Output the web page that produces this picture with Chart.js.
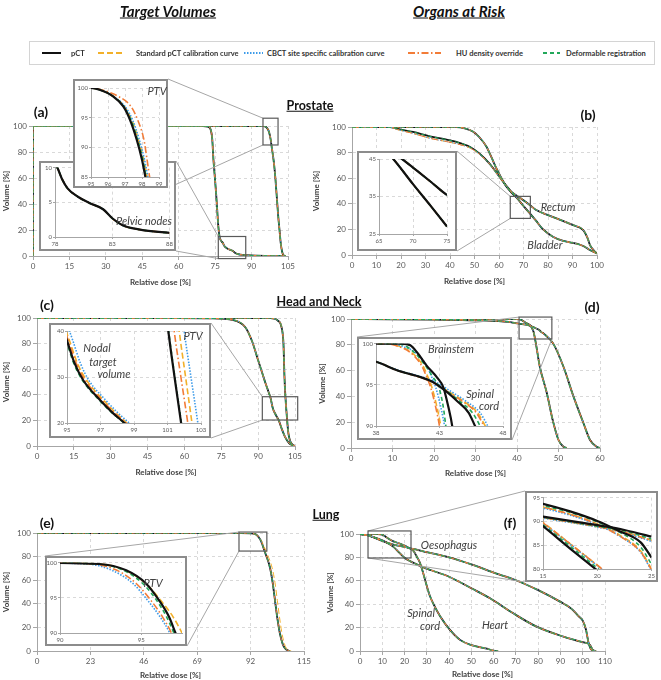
<!DOCTYPE html>
<html>
<head>
<meta charset="utf-8">
<script src="https://cdn.jsdelivr.net/npm/chart.js@4.4.1/dist/chart.umd.min.js"></script>
<style>
  body { margin: 0; background: #fff; font-family: Lato, "Open Sans", sans-serif; }
  #fig { position: relative; width: 661px; height: 680px; overflow: hidden; background: #fff; }
  .main { position: absolute; z-index: 1; }
  .inset { position: absolute; z-index: 2; box-sizing: border-box; border: 2px solid #8c8c8c; background: #fff; }
  .inset canvas { position: absolute; left: 0; top: 0; }
  .lbl { position: absolute; z-index: 5; white-space: nowrap; transform: translate(-50%, -50%); line-height: 1; }
  .head { font-size: 15px; font-weight: bold; font-style: italic; text-decoration: underline; color: #111; }
  .sec { font-size: 12.5px; font-weight: bold; text-decoration: underline; color: #111; }
  .panel { font-size: 14px; font-weight: bold; color: #111; }
  .it { font-size: 11px; font-style: italic; color: #404040; }
  #legend { position: absolute; z-index: 3; left: 29px; top: 41px; width: 626px; height: 24px;
            box-sizing: border-box; border: 1px solid #d4d4d4; background: #fff; }
  #legend span { position: absolute; top: 50%; transform: translateY(-50%); font-size: 7.5px; font-weight: bold; color: #333; white-space: nowrap; }
  #legend svg { position: absolute; top: 0; left: 0; }
</style>
</head>
<body>
<div id="fig"></div>
<script>
// -----------------------
// DATA
// -----------------------

const seriesNames = ['pCT', 'Standard pCT calibration curve', 'CBCT site specific calibration curve',
                     'HU density override', 'Deformable registration'];

// tick values
const aXTicks = [0, 15, 30, 45, 60, 75, 90, 105];
const volTicks = [0, 20, 40, 60, 80, 100];
const aPtvInXTicks = [95, 96, 97, 98, 99];
const aPtvInYTicks = [85, 90, 95, 100];
const aNodeInXTicks = [78, 83, 88];
const aNodeInYTicks = [0, 5, 10];
const bXTicks = [0, 10, 20, 30, 40, 50, 60, 70, 80, 90, 100];
const bInXTicks = [65, 70, 75];
const bInYTicks = [25, 35, 45];
const cInXTicks = [95, 97, 99, 101, 103];
const cInYTicks = [20, 30, 40];
const dXTicks = [0, 10, 20, 30, 40, 50, 60];
const dInXTicks = [38, 43, 48];
const dInYTicks = [90, 95, 100];
const eXTicks = [0, 23, 46, 69, 92, 115];
const eInXTicks = [90, 95];
const eInYTicks = [90, 95, 100];
const fXTicks = [0, 10, 20, 30, 40, 50, 60, 70, 80, 90, 100, 110];
const fInXTicks = [15, 20, 25];
const fInYTicks = [80, 85, 90, 95];

// (a) prostate target volumes
const aPtvDose = [0, 95, 95.5, 96.3, 96.9, 97.3, 97.7, 98.0, 98.2, 98.6, 99.3, 99.8, 100.2, 100.6, 101.0, 101.5, 102.0, 102.5, 103.0, 104.0];
const aPtvVol  = [100, 100, 99.7, 98.6, 96.9, 94.6, 91.2, 87.9, 85, 80, 70, 60, 50, 40, 30, 20, 10, 4, 1, 0];
const aNodeDose = [0, 0, 70, 72, 73, 73.8, 74.3, 74.9, 75.4, 75.9, 76.3, 76.8, 77.4, 78.2, 78.6, 79.1, 80, 81, 82.2, 83, 83.9, 85.3, 88, 92, 100, 104];
const aNodeVol  = [0, 100, 100, 99.5, 98, 90, 74, 60, 48, 34, 23, 15, 11.8, 10, 8.4, 7, 5.8, 4.9, 4.0, 2.7, 1.7, 1.1, 0.6, 0.3, 0.1, 0];
const aPtvInVol  = [100, 100, 99.7, 98.6, 96.9, 94.6, 91.2, 87.9, 85, 82];
const aPtvInPct  = [93, 95, 95.5, 96.3, 96.9, 97.3, 97.7, 98.0, 98.2, 98.4];
const aPtvInStd  = [93, 95, 95.5, 96.3, 96.95, 97.4, 97.8, 98.1, 98.3, 98.5];
const aPtvInCbct = [93, 95, 95.5, 96.3, 97.0, 97.45, 97.85, 98.15, 98.35, 98.55];
const aPtvInHu   = [93, 95, 95.6, 96.6, 97.35, 97.75, 98.12, 98.3, 98.45, 98.65];
const aPtvInDef  = [93, 95, 95.5, 96.3, 96.92, 97.35, 97.75, 98.05, 98.25, 98.45];

// (b) prostate organs at risk
const bBladDose = [0, 42.7, 46, 49.5, 52, 54.9, 57, 59.1, 61, 63, 65, 67.1, 70, 72.6, 75, 78, 82, 86.2, 90, 93.1, 95, 97.1, 99.8];
const bBladVol  = [100, 100, 99, 96.3, 92, 84.6, 76, 67, 60, 53.5, 49, 45, 38.3, 32.5, 27, 20, 14.3, 11, 9.5, 8, 6.5, 3.9, 1.3];
const bRectDose = [0, 15.5, 18.2, 24.9, 31.8, 38.6, 42.7, 48.2, 52.2, 56.3, 60.4, 63, 65, 68.4, 70, 72.7, 75, 79.5, 86.3, 90, 94.4, 96, 97.1, 98.5, 100];
const bRectVol  = [100, 100, 98.7, 96.1, 92.7, 90.1, 88.3, 84.4, 79, 71, 60.5, 54, 49.5, 45, 42.7, 38.8, 35.4, 31.5, 26.5, 23.5, 19.5, 14, 8, 4, 1];
const bRectVolCal = [100, 100, 98.2, 95.0, 91.2, 88.6, 86.9, 83.6, 78.6, 70.8, 60.4, 54, 49.5, 45, 42.7, 38.8, 35.4, 31.5, 26.5, 23.5, 19.5, 14, 8, 4, 1];

// (c) head and neck target volumes
const cNodeDose = [0, 57, 70, 79.9, 84.7, 87.5, 89.5, 91.5, 93, 94, 95, 96, 97, 97.8, 98.4, 99.5, 101, 102.5, 104.3];
const cNodeVol  = [100, 100, 99.7, 98.4, 93, 82, 70, 58, 49, 43.5, 37.9, 29.3, 25, 22.1, 20.1, 14, 7, 2.5, 0];
const cPtvDose = [0, 95, 96.5, 98, 99.5, 100.3, 100.7, 101.05, 101.8, 102.3, 103, 104, 105];
const cPtvVol  = [100, 100, 99.5, 98, 93, 80, 55, 40, 20.3, 10, 4, 1, 0];
const cNodeInVol  = [42, 37.9, 33, 29.3, 25, 22.1, 20.1, 18];
const cNodeInPct  = [94.6, 95, 95.45, 95.97, 96.97, 97.76, 98.4, 99.0];
const cNodeInStd  = [94.75, 95.15, 95.62, 96.17, 97.17, 97.94, 98.55, 99.15];
const cNodeInCbct = [94.95, 95.35, 95.8, 96.3, 97.3, 98.07, 98.68, 99.3];
const cNodeInHu   = [94.7, 95.08, 95.55, 96.08, 97.08, 97.87, 98.5, 99.1];
const cNodeInDef  = [94.55, 94.95, 95.4, 95.92, 96.92, 97.72, 98.37, 98.97];
const cPtvInVol  = [45, 40, 30, 20.3, 15];
const cPtvInPct  = [100.9, 101.05, 101.42, 101.8, 102.0];
const cPtvInStd  = [101.55, 101.7, 102.08, 102.45, 102.65];
const cPtvInCbct = [101.85, 102.0, 102.4, 102.8, 103.0];
const cPtvInHu   = [101.25, 101.4, 101.8, 102.2, 102.4];
const cPtvInDef  = [100.92, 101.07, 101.44, 101.82, 102.02];

// (d) head and neck organs at risk
const dBrainDose = [0, 30, 40, 40.7, 41.3, 42.0, 42.8, 43.3, 43.7, 44.0, 44.5, 45.5, 47.2, 48.6, 50, 51.2, 52];
const dBrainVol  = [100, 100, 100, 99.8, 98.8, 97.3, 95.9, 94.7, 92.3, 90, 82, 63, 42.4, 21.7, 6.2, 1, 0];
const dCordDose = [0, 10, 20, 30, 38, 39.6, 42.4, 43.6, 44.4, 45.3, 45.8, 46.5, 48.7, 51.2, 53.6, 56, 57.6, 59.2, 60];
const dCordVol  = [100, 99.8, 99.5, 99, 97.8, 96.8, 95.4, 94.1, 93, 91.6, 90, 88.5, 81.1, 63, 40, 19.4, 6.2, 1, 0];
const dBrainInVol  = [100, 100, 99.8, 98.8, 97.3, 95.9, 94.7, 92.3, 90, 88];
const dBrainInPct  = [36, 40, 40.7, 41.3, 42.0, 42.8, 43.3, 43.7, 44.0, 44.15];
const dBrainInStd  = [36, 38.8, 39.6, 40.9, 41.7, 42.1, 42.4, 42.8, 43.1, 43.3];
const dBrainInCbct = [36, 39.0, 39.8, 41.2, 42.0, 42.4, 42.7, 43.1, 43.4, 43.6];
const dBrainInHu   = [36, 38.7, 39.5, 40.8, 41.6, 42.0, 42.3, 42.7, 43.0, 43.2];
const dBrainInDef  = [36, 39.3, 40.2, 41.1, 41.9, 42.5, 42.95, 43.3, 43.5, 43.7];
const dCordInVol  = [98.2, 97.8, 96.8, 95.4, 94.1, 93, 91.6, 90, 88.5];
const dCordInPct  = [36.5, 38, 39.6, 42.4, 43.6, 44.4, 45.3, 45.8, 46.3];
const dCordInStd  = [36.5, 38, 39.6, 42.4, 43.8, 44.9, 46.0, 46.6, 47.1];
const dCordInCbct = [36.5, 38, 39.7, 42.6, 44.0, 45.1, 46.2, 46.8, 47.3];
const dCordInHu   = [36.5, 38, 39.6, 42.3, 43.7, 44.8, 45.9, 46.5, 47.0];
const dCordInDef  = [36.5, 38, 39.6, 42.4, 43.7, 44.6, 45.6, 46.2, 46.7];

// (e) lung target volume
const ePtvDose    = [0, 88, 92.4, 94.1, 95.3, 96.1, 96.7, 97.1, 98.5, 100.3, 101.5, 102.5, 103.5, 104.6, 105.8, 106.8, 108, 109];
const ePtvDoseStd = [0, 88, 92.4, 94.0, 95.3, 96.2, 96.95, 97.5, 99.2, 101.2, 102.5, 103.5, 104.5, 105.5, 106.6, 107.5, 108.5, 109.5];
const ePtvVol     = [100, 100, 99.8, 98.9, 97, 94.6, 92.3, 90, 82, 71, 58, 43, 28, 15, 6, 2.3, 0.5, 0];
const eInVol  = [100, 99.8, 98.9, 97, 94.6, 92.3, 90, 88];
const eInPct  = [88, 92.4, 94.07, 95.3, 96.1, 96.7, 97.1, 97.45];
const eInStd  = [88, 92.4, 94.0, 95.3, 96.2, 96.95, 97.5, 97.9];
const eInCbct = [87, 91.7, 93.2, 94.5, 95.4, 96.15, 96.75, 97.1];
const eInHu   = [87.5, 92.0, 93.5, 94.7, 95.6, 96.3, 96.85, 97.2];
const eInDef  = [88, 92.3, 93.9, 95.1, 95.95, 96.55, 97.0, 97.35];

// (f) lung organs at risk
const fOesDose = [0, 5, 10, 15, 20, 25, 30, 40, 50, 60, 70, 80, 90, 95, 98, 100, 101.5, 102.5, 103.5, 105];
const fOesVol  = [100, 98, 94, 91, 88.9, 86.8, 84.5, 80, 74, 67, 60.5, 52, 42, 36, 30, 26, 18, 8, 2, 0];
const fHeartDose = [0, 5, 10, 15, 17.5, 20, 22.5, 25, 28.5, 32, 40, 50, 58.4, 68.8, 79.3, 91.3, 100, 103.3, 104.5, 106];
const fHeartVol  = [100, 98, 94.5, 89, 84.3, 79.7, 76.8, 74.5, 71.5, 69, 63.5, 53.6, 45, 32.2, 20.8, 12.3, 7.5, 5, 1, 0];
const fCordDose = [0, 8, 10, 12, 15, 17.5, 20, 22, 24, 25, 26, 27, 28, 29.2, 30, 31.4, 33, 35.9, 40.4, 44.9, 50, 56.9, 60, 62];
const fCordVol  = [100, 100, 99.5, 97, 93.7, 92.1, 90.1, 88, 85.6, 82.4, 79, 75, 69, 61, 55.5, 47, 40, 30, 18, 9.5, 5, 2, 0.3, 0];
const fCordInDose = [14, 15, 17.5, 20, 22, 24, 25, 26];
const fCordInPct  = [94.2, 93.7, 92.1, 90.1, 88.0, 85.6, 82.4, 79];
const fCordInStd  = [93.5, 93.0, 91.5, 89.5, 87.2, 83.8, 80.0, 76.5];
const fCordInCbct = [93.3, 92.8, 91.3, 89.3, 87.0, 83.5, 79.7, 76.2];
const fCordInHu   = [93.5, 93.0, 91.5, 89.4, 87.0, 83.6, 79.9, 76.4];
const fCordInDef  = [93.8, 93.3, 91.9, 89.9, 87.8, 84.6, 81.0, 77.5];
const fOesInDose = [14, 15, 20, 22.5, 25, 26];
const fOesInPct  = [91.4, 91.0, 89.2, 88.2, 86.8, 86.2];
const fOesInStd  = [91.2, 90.8, 88.9, 87.8, 86.0, 85.3];
const fOesInCbct = [91.1, 90.7, 88.8, 87.6, 85.8, 85.1];
const fOesInHu   = [91.2, 90.8, 88.9, 87.7, 86.0, 85.3];
const fOesInDef  = [91.3, 90.9, 89.0, 88.0, 86.3, 85.6];
const fHeartInDose = [14, 15, 17.5, 20, 21];
const fHeartInPct  = [90.8, 89.0, 84.3, 79.7, 77.9];
const fHeartInStd  = [91.5, 89.8, 85.3, 80.8, 79.0];
const fHeartInCbct = [91.3, 89.6, 85.2, 80.7, 78.9];
const fHeartInHu   = [91.4, 89.7, 85.3, 80.8, 79.0];
const fHeartInDef  = [91.1, 89.3, 84.8, 80.2, 78.4];

// -----------------------
// STYLES
// -----------------------

const FONT = 'Lato, "Open Sans", sans-serif';
const STY = [
    { color: '#111111', dash: [],                 w: 2.2, wm: 1.8 },  // pCT
    { color: '#F2B02A', dash: [6, 3],             w: 1.6, wm: 1.0 },  // standard calibration
    { color: '#3D9BE9', dash: [1.5, 1.5],         w: 1.6, wm: 1.0 },  // CBCT site specific
    { color: '#F27C38', dash: [7, 2.5, 1.5, 2.5], w: 1.6, wm: 1.0 },  // HU override
    { color: '#22A85A', dash: [4, 3],             w: 1.6, wm: 1.0 }   // deformable
];

Chart.defaults.font.family = FONT;

// -----------------------
// HELPERS
// -----------------------

const fig = document.getElementById('fig');

function pts(d, v){
    return d.map((x, i) => ({ x: x, y: v[i] }));
}

// one dataset per method; in the insets pCT sits on top, in the main plots underneath
function five(list, main){
    return list.map((data, i) => ({
        label: seriesNames[i],
        data: data,
        borderColor: STY[i].color,
        borderDash: STY[i].dash,
        borderWidth: main ? STY[i].wm : STY[i].w,
        pointRadius: 0,
        fill: false,
        cubicInterpolationMode: 'monotone',
        order: main ? 10 - i : (i === 0 ? 0 : 10 - i)
    }));
}

function same(p){ return [p, p, p, p, p]; }

// rectangles on the main plot plus the lines to the inset box
const zoomMarks = {
    id: 'zoomMarks',
    afterDraw(chart, args, opts){
        const items = opts.items || [];
        if(!items.length) return;
        const ctx = chart.ctx, sx = chart.scales.x, sy = chart.scales.y;
        ctx.save();
        items.forEach(it => {
            const l = sx.getPixelForValue(it.x[0]), r = sx.getPixelForValue(it.x[1]);
            const t = sy.getPixelForValue(it.y[1]), b = sy.getPixelForValue(it.y[0]);
            const rc = { tl: [l, t], tr: [r, t], bl: [l, b], br: [r, b] };
            const bl = it.box[0] - opts.ox, bt = it.box[1] - opts.oy;
            const br = it.box[2] - opts.ox, bb = it.box[3] - opts.oy;
            const bc = { tl: [bl, bt], tr: [br, bt], bl: [bl, bb], br: [br, bb] };
            ctx.setLineDash([]);
            ctx.strokeStyle = '#a6a6a6';
            ctx.lineWidth = 1;
            it.links.forEach(([a, c]) => {
                ctx.beginPath();
                ctx.moveTo(rc[a][0], rc[a][1]);
                ctx.lineTo(bc[c][0], bc[c][1]);
                ctx.stroke();
            });
            ctx.strokeStyle = '#595959';
            ctx.lineWidth = 1.2;
            ctx.strokeRect(l, t, r - l, b - t);
        });
        ctx.restore();
    }
};
Chart.register(zoomMarks);

function axis(range, ticks, fitSize, horizontal, main, title, titlePad){
    return {
        type: 'linear',
        min: range[0],
        max: range[1],
        afterBuildTicks: s => { s.ticks = ticks.map(v => ({ value: v })); },
        afterFit: s => { if(horizontal) s.height = fitSize; else s.width = fitSize; },
        grid: { color: '#d9d9d9', lineWidth: 1, tickLength: main ? 4 : 2, tickColor: '#a6a6a6' },
        border: { color: '#a6a6a6', width: 1, dash: [3, 3] },
        ticks: { color: '#595959', font: { size: main ? 8 : 6 }, padding: main ? 2 : 1,
                 maxRotation: 0, autoSkip: false },
        title: main ? { display: true, text: title, color: '#404040',
                        font: { size: 8, weight: 'bold' }, padding: titlePad } : { display: false }
    };
}

function makeChart(canvas, L, T, W, H, plot, cfg, main){
    const [pl, pt, pr, pb] = plot;
    return new Chart(canvas, {
        type: 'line',
        data: { datasets: cfg.datasets },
        options: {
            responsive: false,
            animation: false,
            devicePixelRatio: 1,
            events: [],
            layout: { padding: { left: 0, top: pt - T, right: L + W - pr, bottom: 0 } },
            plugins: {
                legend: { display: false },
                tooltip: { enabled: false },
                zoomMarks: { items: cfg.marks || [], ox: L, oy: T }
            },
            scales: {
                x: axis(cfg.x, cfg.xt, T + H - pb, true, main, 'Relative dose [%]',
                        { top: 0, bottom: cfg.xTitlePad || 0 }),
                y: axis(cfg.y, cfg.yt, pl - L, false, main, 'Volume [%]', { top: 2, bottom: 0 })
            }
        }
    });
}

function mainChart(cfg){
    const [L, T, W, H] = cfg.box;
    const cv = document.createElement('canvas');
    cv.width = W; cv.height = H;
    cv.className = 'main';
    cv.style.left = L + 'px'; cv.style.top = T + 'px';
    cv.style.width = W + 'px'; cv.style.height = H + 'px';
    fig.appendChild(cv);
    return makeChart(cv, L, T, W, H, cfg.plot, cfg, true);
}

function insetChart(cfg){
    const [bl, bt, br, bb] = cfg.box;
    const bw = 2;
    const div = document.createElement('div');
    div.className = 'inset';
    div.style.left = bl + 'px'; div.style.top = bt + 'px';
    div.style.width = (br - bl) + 'px'; div.style.height = (bb - bt) + 'px';
    fig.appendChild(div);
    const L = bl + bw, T = bt + bw, W = br - bl - 2 * bw, H = bb - bt - 2 * bw;
    const cv = document.createElement('canvas');
    cv.width = W; cv.height = H;
    cv.style.width = W + 'px'; cv.style.height = H + 'px';
    div.appendChild(cv);
    return makeChart(cv, L, T, W, H, cfg.plot, cfg, false);
}

// -----------------------
// PANELS
// -----------------------

// (a)
const aPtv = pts(aPtvDose, aPtvVol), aNode = pts(aNodeDose, aNodeVol);
mainChart({
    box: [0, 70, 310, 225], plot: [33, 126, 288, 256],
    x: [0, 105], y: [0, 100], xt: aXTicks, yt: volTicks, xTitlePad: 8,
    datasets: [...five(same(aNode), true), ...five(same(aPtv), true)],
    marks: [
        { x: [94.7, 100.9], y: [85.4, 106], box: [73, 79, 168, 188], links: [['tl', 'tr'], ['bl', 'br']] },
        { x: [76.3, 87.6], y: [-2, 15], box: [39, 161, 176, 251], links: [['tl', 'tr'], ['bl', 'br']] }
    ]
});
insetChart({
    box: [39, 161, 176, 251], plot: [55, 167, 171, 237],
    x: [78, 88], y: [0, 10], xt: aNodeInXTicks, yt: aNodeInYTicks,
    datasets: five(same(aNode), false)
});
insetChart({
    box: [73, 79, 168, 188], plot: [91, 88, 159, 177],
    x: [95, 99], y: [85, 100], xt: aPtvInXTicks, yt: aPtvInYTicks,
    datasets: five([pts(aPtvInPct, aPtvInVol), pts(aPtvInStd, aPtvInVol), pts(aPtvInCbct, aPtvInVol),
                    pts(aPtvInHu, aPtvInVol), pts(aPtvInDef, aPtvInVol)], false)
});

// (b)
const bBlad = pts(bBladDose, bBladVol);
const bRect = pts(bRectDose, bRectVol), bRectCal = pts(bRectDose, bRectVolCal);
mainChart({
    box: [310, 70, 351, 225], plot: [352, 127, 597, 255],
    x: [0, 100], y: [0, 100], xt: bXTicks, yt: volTicks, xTitlePad: 9,
    datasets: [...five(same(bBlad), true), ...five([bRect, bRectCal, bRectCal, bRectCal, bRect], true)],
    marks: [
        { x: [64.6, 72.8], y: [28.6, 45.8], box: [357, 151, 457, 251], links: [['tl', 'tr'], ['bl', 'br']] }
    ]
});
insetChart({
    box: [357, 151, 457, 251], plot: [379, 159, 447, 234],
    x: [65, 75], y: [25, 45], xt: bInXTicks, yt: bInYTicks,
    datasets: [...five(same(bBlad), false), ...five(same(bRect), false)]
});

// (c)
mainChart({
    box: [0, 295, 318, 190], plot: [37, 318, 295, 446],
    x: [0, 105], y: [0, 100], xt: aXTicks, yt: volTicks, xTitlePad: 8,
    datasets: [...five(same(pts(cNodeDose, cNodeVol)), true), ...five(same(pts(cPtvDose, cPtvVol)), true)],
    marks: [
        { x: [91.7, 106.1], y: [20.3, 38.5], box: [49, 323, 211, 438], links: [['tl', 'tr'], ['bl', 'br']] }
    ]
});
insetChart({
    box: [49, 323, 211, 438], plot: [67, 331, 201, 423],
    x: [95, 103], y: [20, 40], xt: cInXTicks, yt: cInYTicks,
    datasets: [
        ...five([pts(cNodeInPct, cNodeInVol), pts(cNodeInStd, cNodeInVol), pts(cNodeInCbct, cNodeInVol),
                 pts(cNodeInHu, cNodeInVol), pts(cNodeInDef, cNodeInVol)], false),
        ...five([pts(cPtvInPct, cPtvInVol), pts(cPtvInStd, cPtvInVol), pts(cPtvInCbct, cPtvInVol),
                 pts(cPtvInHu, cPtvInVol), pts(cPtvInDef, cPtvInVol)], false)
    ]
});

// (d)
mainChart({
    box: [316, 295, 345, 190], plot: [351, 319, 600, 448],
    x: [0, 60], y: [0, 100], xt: dXTicks, yt: volTicks, xTitlePad: 7,
    datasets: [...five(same(pts(dBrainDose, dBrainVol)), true), ...five(same(pts(dCordDose, dCordVol)), true)],
    marks: [
        { x: [40.5, 48.4], y: [84.5, 101.5], box: [357, 337, 512, 440], links: [['tl', 'tl'], ['br', 'br']] }
    ]
});
insetChart({
    box: [357, 337, 512, 440], plot: [376, 343, 503, 426],
    x: [38, 48], y: [90, 100], xt: dInXTicks, yt: dInYTicks,
    datasets: [
        ...five([pts(dBrainInPct, dBrainInVol), pts(dBrainInStd, dBrainInVol), pts(dBrainInCbct, dBrainInVol),
                 pts(dBrainInHu, dBrainInVol), pts(dBrainInDef, dBrainInVol)], false),
        ...five([pts(dCordInPct, dCordInVol), pts(dCordInStd, dCordInVol), pts(dCordInCbct, dCordInVol),
                 pts(dCordInHu, dCordInVol), pts(dCordInDef, dCordInVol)], false)
    ]
});

// (e)
const ePtv = pts(ePtvDose, ePtvVol), ePtvStd = pts(ePtvDoseStd, ePtvVol);
mainChart({
    box: [0, 485, 318, 195], plot: [37, 533, 304, 651],
    x: [0, 115], y: [0, 100], xt: eXTicks, yt: volTicks, xTitlePad: 0,
    datasets: five([ePtv, ePtvStd, ePtv, ePtv, ePtv], true),
    marks: [
        { x: [87, 99], y: [84.7, 100.8], box: [45, 556, 187, 646], links: [['tl', 'tl'], ['bl', 'br']] }
    ]
});
insetChart({
    box: [45, 556, 187, 646], plot: [60, 562, 182, 633],
    x: [90, 97.5], y: [90, 100], xt: eInXTicks, yt: eInYTicks,
    datasets: five([pts(eInPct, eInVol), pts(eInStd, eInVol), pts(eInCbct, eInVol),
                    pts(eInHu, eInVol), pts(eInDef, eInVol)], false)
});

// (f)
mainChart({
    box: [324, 488, 337, 192], plot: [360, 534, 605, 651],
    x: [0, 110], y: [0, 100], xt: fXTicks, yt: volTicks, xTitlePad: 1,
    datasets: [...five(same(pts(fOesDose, fOesVol)), true), ...five(same(pts(fHeartDose, fHeartVol)), true),
               ...five(same(pts(fCordDose, fCordVol)), true)],
    marks: [
        { x: [3.6, 22.9], y: [79.5, 102.6], box: [525, 491, 658, 582], links: [['tl', 'tl'], ['bl', 'bl']] }
    ]
});
insetChart({
    box: [525, 491, 658, 582], plot: [543, 496, 652, 569],
    x: [15, 25], y: [80, 95], xt: fInXTicks, yt: fInYTicks,
    datasets: [
        ...five([pts(fOesInDose, fOesInPct), pts(fOesInDose, fOesInStd), pts(fOesInDose, fOesInCbct),
                 pts(fOesInDose, fOesInHu), pts(fOesInDose, fOesInDef)], false),
        ...five([pts(fCordInDose, fCordInPct), pts(fCordInDose, fCordInStd), pts(fCordInDose, fCordInCbct),
                 pts(fCordInDose, fCordInHu), pts(fCordInDose, fCordInDef)], false),
        ...five([pts(fHeartInDose, fHeartInPct), pts(fHeartInDose, fHeartInStd), pts(fHeartInDose, fHeartInCbct),
                 pts(fHeartInDose, fHeartInHu), pts(fHeartInDose, fHeartInDef)], false)
    ]
});

// -----------------------
// LEGEND
// -----------------------

const legendPos = [[42, 61, 71], [98, 122, 136], [244, 263, 267], [408, 441, 456], [543, 560, 566]];
const legend = document.createElement('div');
legend.id = 'legend';
const NS = 'http://www.w3.org/2000/svg';
const svg = document.createElementNS(NS, 'svg');
svg.setAttribute('width', 624); svg.setAttribute('height', 22);
legendPos.forEach(([x0, x1, tx], i) => {
    const ln = document.createElementNS(NS, 'line');
    ln.setAttribute('x1', x0 - 30); ln.setAttribute('x2', x1 - 30);
    ln.setAttribute('y1', 11); ln.setAttribute('y2', 11);
    ln.setAttribute('stroke', STY[i].color);
    ln.setAttribute('stroke-width', i === 0 ? 2 : 1.8);
    if(STY[i].dash.length) ln.setAttribute('stroke-dasharray', STY[i].dash.join(' '));
    svg.appendChild(ln);
    const sp = document.createElement('span');
    sp.textContent = seriesNames[i];
    sp.style.left = (tx - 30) + 'px';
    legend.appendChild(sp);
});
legend.appendChild(svg);
fig.appendChild(legend);

// -----------------------
// TEXT LABELS
// -----------------------

const labels = [
    ['Target Volumes', 168, 11, 'head'], ['Organs at Risk', 459, 11, 'head'],
    ['Prostate', 310, 106, 'sec'], ['Head and Neck', 319, 302, 'sec'], ['Lung', 326, 515, 'sec'],
    ['(a)', 41, 112, 'panel'], ['(b)', 588, 115, 'panel'], ['(c)', 47, 305, 'panel'],
    ['(d)', 592, 307, 'panel'], ['(e)', 47, 523, 'panel'], ['(f)', 510, 523, 'panel'],
    ['PTV', 157, 90, 'it'], ['Pelvic nodes', 144, 220, 'it'],
    ['Rectum', 558, 206, 'it'], ['Bladder', 545, 244, 'it'],
    ['Nodal', 97, 347, 'it'], ['target', 103, 361, 'it'], ['volume', 114, 373, 'it'], ['PTV', 193, 335, 'it'],
    ['Brainstem', 451, 348, 'it'], ['Spinal', 480, 393, 'it'], ['cord', 489, 405, 'it'],
    ['PTV', 153, 582, 'it'],
    ['Oesophagus', 449, 544, 'it'], ['Spinal', 421, 612, 'it'], ['cord', 430, 625, 'it'], ['Heart', 495, 624, 'it']
];
labels.forEach(([t, x, y, cls]) => {
    const d = document.createElement('div');
    d.className = 'lbl ' + cls;
    d.textContent = t;
    d.style.left = x + 'px';
    d.style.top = y + 'px';
    fig.appendChild(d);
});
</script>
</body>
</html>
